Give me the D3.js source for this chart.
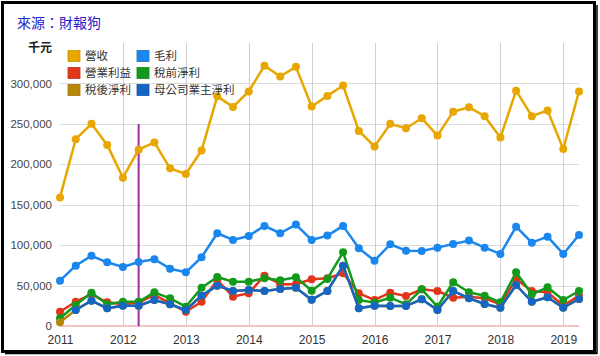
<!DOCTYPE html>
<html><head><meta charset="utf-8">
<script src="https://cdn.jsdelivr.net/npm/d3@7"></script>
<style>
html,body{margin:0;padding:0;background:#fff;}
svg{display:block;font-family:"Liberation Sans",Arial,"Noto Sans CJK TC",sans-serif;}
</style></head>
<body><svg id="c" width="600" height="356"></svg>
<script>
// quarters: 2011Q1 .. 2019Q2
const quarters = d3.range(34).map(i => 2011 + i * 0.25);
const yearTicks = [2011,2012,2013,2014,2015,2016,2017,2018,2019];
const yTicks = [0,50000,100000,150000,200000,250000,300000];

const revenue = [159000,231000,250000,224000,183500,218000,227000,195000,188000,217000,284000,271000,290000,322000,308500,320500,271400,284600,297400,241300,222000,250000,244600,257000,235500,265000,270600,259500,233000,291000,259500,266500,219000,290000];
const grossProfit = [56000,74600,86800,78800,73000,79200,82500,70900,66400,85000,114700,106400,111400,123800,114700,125400,106400,111800,123800,96100,80800,101100,93200,92800,96900,101500,105600,96900,89100,122900,103100,110500,89100,112600];
const operatingIncome = [17700,30000,39200,29300,26800,28900,38400,28000,17700,30000,56900,36300,40400,62300,51600,51600,57800,59000,65200,40400,32200,41200,37100,45400,43300,35000,36300,34300,26800,58200,43300,41700,25100,37500];
const preTaxIncome = [9500,26000,41200,26800,30000,30000,41600,34200,23900,47400,60600,54800,54800,59000,56500,60300,43700,58200,91200,32200,28900,35000,26800,45400,23900,54100,41800,37500,29300,66400,39200,47900,32200,43300];
const afterTaxIncome = [4600,19800,31300,21900,25100,25100,32200,26800,19800,37500,49900,43300,44600,43300,45800,47400,32600,43300,74600,21900,25100,24800,24800,33000,19800,43300,34300,27200,22600,50700,30000,35500,22600,33400];
const parentNetIncome = [null,19800,31300,21900,25100,25100,32200,26800,19800,37500,49900,43300,44600,43300,45800,47400,32600,43300,74600,21900,25100,24800,24800,33000,19800,43300,34300,27200,22600,50700,30000,35500,22600,33400];

const seriesNames = ["營收","毛利","營業利益","稅前淨利","稅後淨利","母公司業主淨利"];
const seriesColors = ["#e8a700","#1a86ee","#e0361b","#139a1b","#b8870a","#1565c4"];
const seriesData = [revenue,grossProfit,operatingIncome,preTaxIncome,afterTaxIncome,parentNetIncome];
const markerDate = 2012.25;

const svg = d3.select("#c");
const x = d3.scaleLinear().domain([2011, 2019.25]).range([60, 579]);
const y = d3.scaleLinear().domain([0, 350000]).range([326, 43]);

// frame
svg.append("rect").attr("x",2.5).attr("y",2.5).attr("width",592).attr("height",349)
  .attr("fill","none").attr("stroke","#000").attr("stroke-width",3);
svg.append("line").attr("x1",597).attr("x2",597).attr("y1",5).attr("y2",354).attr("stroke","#000").attr("stroke-width",1.5);
svg.append("line").attr("x1",5).attr("x2",597).attr("y1",353.5).attr("y2",353.5).attr("stroke","#000").attr("stroke-width",1.5);

// title
svg.append("text").attr("x",17).attr("y",28).attr("fill","#2323c8")
  .attr("font-size",14).attr("font-family","'Noto Sans CJK TC',sans-serif").text("來源：財報狗");

// gridlines
const g = svg.append("g");
g.selectAll("line.h").data(yTicks.filter(d=>d>0)).join("line")
  .attr("x1",60).attr("x2",579).attr("y1",d=>Math.round(y(d))+0.5).attr("y2",d=>Math.round(y(d))+0.5)
  .attr("stroke","#dcdcdc").attr("stroke-width",1);
g.selectAll("line.v").data(yearTicks.filter(d=>d>2011)).join("line")
  .attr("x1",d=>Math.round(x(d))+0.5).attr("x2",d=>Math.round(x(d))+0.5).attr("y1",43).attr("y2",326)
  .attr("stroke","#d0d0d0").attr("stroke-width",1);

// y axis
const yAxis = d3.axisLeft(y).tickValues(yTicks).tickFormat(d3.format(",")).tickSize(0).tickPadding(8);
const ya = svg.append("g").attr("transform","translate(60,0)").call(yAxis);
ya.select(".domain").remove();
ya.selectAll("text").attr("font-size",11.5).attr("fill","#444").attr("font-family","'Liberation Sans',Arial,sans-serif");

// x axis
const xAxis = d3.axisBottom(x).tickValues(yearTicks).tickFormat(d3.format("d")).tickSize(0).tickPadding(9);
const xa = svg.append("g").attr("transform","translate(0,326)").call(xAxis);
xa.select(".domain").remove();
xa.selectAll("text").attr("font-size",12).attr("fill","#333").attr("font-family","'Liberation Sans',Arial,sans-serif");

// unit label
svg.append("text").attr("x",52).attr("y",52).attr("text-anchor","end").attr("font-size",12)
  .attr("font-weight","bold").attr("fill","#222").attr("font-family","'Noto Sans CJK TC',sans-serif").text("千元");

// baseline
svg.append("line").attr("x1",60).attr("x2",579).attr("y1",y(0)).attr("y2",y(0))
  .attr("stroke","#f2c4c4").attr("stroke-width",2);

// marker line
svg.append("line").attr("x1",x(markerDate)).attr("x2",x(markerDate)).attr("y1",124).attr("y2",y(0))
  .attr("stroke","#9b2fa0").attr("stroke-width",2);

// series
const line = d3.line().defined(d=>d[1]!==null).x(d=>x(d[0])).y(d=>y(d[1]));
seriesData.forEach((vals,i)=>{
  const pts = quarters.map((q,j)=>[q, vals[j]]);
  svg.append("path").datum(pts).attr("d",line).attr("fill","none")
    .attr("stroke",seriesColors[i]).attr("stroke-width",2.5).attr("stroke-linejoin","round");
  svg.append("g").selectAll("circle").data(pts.filter(d=>d[1]!==null)).join("circle")
    .attr("cx",d=>x(d[0])).attr("cy",d=>y(d[1])).attr("r",4).attr("fill",seriesColors[i]);
});

// legend
const legendPos = [[68,56],[137,56],[68,73],[137,73],[68,90],[137,90]];
const lg = svg.append("g");
seriesNames.forEach((name,k)=>{
  const [lx,ly] = legendPos[k];
  lg.append("rect").attr("x",lx).attr("y",ly-5.5).attr("width",12).attr("height",11)
    .attr("fill",seriesColors[k]).attr("stroke",d3.color(seriesColors[k]).darker(0.4)).attr("stroke-width",0.8);
  lg.append("text").attr("x",lx+17).attr("y",ly+4).attr("font-size",11.5).attr("fill","#333")
    .attr("font-family","'Noto Sans CJK TC',sans-serif").text(name);
});
</script></body></html>
